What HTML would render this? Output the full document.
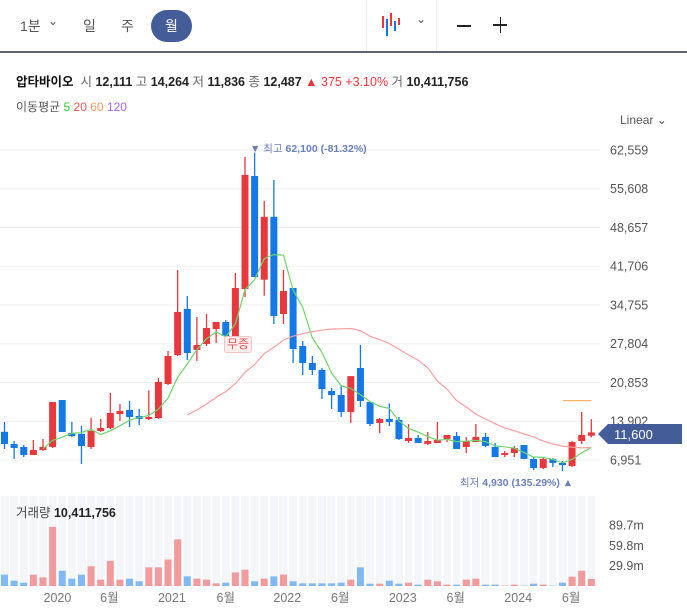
<!DOCTYPE html>
<html><head><meta charset="utf-8">
<style>
*{margin:0;padding:0;box-sizing:border-box}
body{width:687px;height:615px;background:#fff;font-family:"Liberation Sans","Noto Sans CJK KR",sans-serif;position:relative;overflow:hidden;color:#222}
.a{position:absolute;white-space:nowrap}
</style></head><body>
<div class="a" style="left:20px;top:16px;font-size:14px;color:#555">1분</div>
<div class="a" style="left:48px;top:14px;font-size:12px;color:#555">⌄</div>
<div class="a" style="left:83px;top:16px;font-size:14px;color:#555">일</div>
<div class="a" style="left:121px;top:16px;font-size:14px;color:#555">주</div>
<div class="a" style="left:151px;top:10px;width:41px;height:32px;border-radius:16px;background:#445d98;color:#fff;font-size:14px;text-align:center;line-height:32px">월</div>
<div class="a" style="left:366px;top:0;width:1px;height:52px;background:#eee"></div>
<div class="a" style="left:436px;top:0;width:1px;height:52px;background:#eee"></div>
<svg class="a" style="left:378px;top:10px" width="24" height="30"><rect x="4" y="6" width="2" height="12" fill="#e8383d"/><rect x="8" y="9" width="2" height="17" fill="#1478e6"/><rect x="12" y="3" width="2" height="13" fill="#e8383d"/><rect x="16" y="11" width="2" height="10" fill="#1478e6"/><rect x="20" y="8" width="2" height="7" fill="#e8383d"/></svg>
<div class="a" style="left:416px;top:12px;font-size:12px;color:#555">⌄</div>
<div class="a" style="left:457px;top:25px;width:14px;height:1.5px;background:#222"></div>
<div class="a" style="left:493px;top:16px;width:14px;height:18px"><div style="position:absolute;left:0;top:8px;width:14px;height:1.5px;background:#222"></div><div style="position:absolute;left:6.5px;top:1px;width:1.5px;height:16px;background:#222"></div></div>
<div class="a" style="left:0;top:51px;width:687px;height:2px;background:#5f6470"></div>

<div class="a" style="left:16px;top:71px;font-size:12.5px;color:#666"><b style="color:#111">압타바이오</b>&nbsp; 시 <b style="color:#222">12,111</b> 고 <b style="color:#222">14,264</b> 저 <b style="color:#222">11,836</b> 종 <b style="color:#222">12,487</b> <span style="color:#e8383d">▲ 375 +3.10%</span> 거 <b style="color:#222">10,411,756</b></div>
<div class="a" style="left:16px;top:98px;font-size:12px;color:#555">이동평균 <span style="color:#3c3">5</span> <span style="color:#f55">20</span> <span style="color:#f96">60</span> <span style="color:#a6f">120</span></div>
<div class="a" style="left:620px;top:113px;font-size:12px;color:#555">Linear ⌄</div>

<svg id="chart" class="a" style="left:0;top:0" width="687" height="615"></svg>
<script>
const opens=[12000,9820,9280,7840,8740,9280,17710,11790,11610,9280,12150,12690,15200,15920,14840,14300,14480,20580,25780,34040,26680,27760,30450,31700,29190,37620,57900,39290,50570,33140,37800,27400,24350,23090,19320,18600,15560,23450,17350,13580,14300,14120,10350,10890,9830,10000,10710,11250,9280,10170,11070,9280,7840,8200,9640,7130,5510,7130,6410,5870,10350,11300];
const closes=[9820,9100,7840,8740,9280,17350,11970,11250,9460,12150,12690,15380,15740,14660,14300,14660,20940,25600,33500,26140,27580,30630,31700,29190,37800,58080,39770,50570,32780,37260,26860,24350,23090,19680,18600,15560,21990,17530,13400,14300,13760,10710,10890,10000,10350,10530,11430,8920,10350,11070,9460,7480,8200,9100,7130,5510,7130,6410,6050,10170,11430,11900];
const highs=[13760,10350,9640,10530,10710,17350,17710,13800,13080,14530,14300,18960,16990,17530,16090,19450,21660,26500,41030,36360,32600,33140,31700,32060,40490,61300,62100,53460,57180,41030,37800,28290,25600,23450,19860,20400,21990,27580,17350,14480,17090,14660,13400,11430,11970,13760,11430,11970,11070,13400,11790,10000,8560,9460,9640,7480,7480,7300,6760,10350,15560,14264];
const lows=[8920,7130,7480,7840,8560,9100,11970,11070,6230,8920,11970,12510,13940,12870,13220,14120,14300,20400,25600,24880,24700,27400,27940,29190,29000,36190,39770,36420,31340,31340,24350,22190,22190,17890,16090,14700,13580,16450,13040,11790,13040,10530,10000,10000,9640,10000,10170,8920,8200,10170,9280,7480,7480,7480,7130,5150,5330,5690,4930,5690,9820,11000];
const volumes=[16.7,7.8,4.9,16.7,12.7,87,22.5,10.8,16.7,29,9.3,37,9.3,10.8,6.9,27.4,27.4,39,68.6,14.2,10.8,9.3,3.9,4.9,20,24,6.9,10.8,14.2,16.7,6.9,3.9,3.9,3.9,3.9,4.9,9.3,27.4,3.4,3.4,7.8,3.4,4.9,2,9.3,6.9,2,2,9.3,10.8,2,2,0.5,2,0.5,3.4,2,0.5,4.9,13.7,22.5,10.4];
const priceTicks=[6951,13902,20853,27804,34755,41706,48657,55608,62559];
const volTicks=[29.9,59.8,89.7];
const xLabels=["2020","6월","2021","6월","2022","6월","2023","6월","2024","6월"];
const xLabelIdx=[5.5,10.9,17.4,23,29.4,34.9,41.4,46.9,53.4,58.9];

const svg=document.getElementById('chart');
const NS='http://www.w3.org/2000/svg';
const xOf=i=>4.5+i*9.62;
const yP=v=>150+(62559-v)/179.4;
const yV=v=>586-v*0.68;
function mk(t,a){const e=document.createElementNS(NS,t);for(const k in a)e.setAttribute(k,a[k]);svg.appendChild(e);return e;}
const RED='#e8383d',BLUE='#1478e6';
// grid + ticks
priceTicks.forEach(v=>{
 const g=mk('line',{x1:0,x2:600,y1:yP(v),y2:yP(v),stroke:'#f0f0f2','stroke-width':1});
 
 
 const t=mk('text',{x:610,y:yP(v)+4.5,'font-size':12.5,fill:'#555'});
 t.textContent=v.toLocaleString('en-US');
 
 
});
// volume stripes
closes.forEach((c,i)=>{
 const s=mk('rect',{x:xOf(i)-4,y:496,width:8,height:90,fill:'#f4f6fa'});
 
 
});
// candles
closes.forEach((c,i)=>{
 const o=opens[i],up=c>=o,col=up?RED:BLUE,x=xOf(i);
 const w=mk('line',{x1:x,x2:x,y1:yP(highs[i]),y2:yP(lows[i]),stroke:col,'stroke-width':1.3});
 
 
 const top=yP(Math.max(o,c)),bot=yP(Math.min(o,c));
 const b=mk('rect',{x:x-3.5,y:top,width:7,height:Math.max(1.5,bot-top),fill:col});
 
 
 const vb=mk('rect',{x:x-3.5,y:yV(volumes[i]),width:7,height:volumes[i]*0.68,fill:up?'#f29a9c':'#80b9f5'});
 
 
});
// moving averages
function ma(n,col,name){
 let pts=[];
 for(let i=n-1;i<closes.length;i++){let s=0;for(let j=i-n+1;j<=i;j++)s+=closes[j];pts.push(xOf(i).toFixed(1)+','+yP(s/n).toFixed(1));}
 if(pts.length<2)return;
 const p=mk('polyline',{points:pts.join(' '),fill:'none',stroke:col,'stroke-width':1.2});
 
 
}
ma(5,'#6fd46f','ma5-line');ma(20,'#f6a0a0','ma20-line');
// ma60 short segment
{let s=0;for(let j=0;j<60;j++)s+=closes[j];const v=s/60;
 const p=mk('line',{x1:xOf(59)-9,x2:xOf(61),y1:yP(v),y2:yP(v),stroke:'#f9b36a','stroke-width':1.3});
 
 }
// volume ticks
volTicks.forEach(v=>{
 const t=mk('text',{x:609,y:yV(v)+4.5,'font-size':12.5,fill:'#555'});
 t.textContent=v+'m';
 
 
});
xLabels.forEach((l,k)=>{
 const t=mk('text',{x:xOf(xLabelIdx[k]),y:602,'font-size':12.5,fill:'#777','text-anchor':'middle'});
 t.textContent=l;
 
 
});
</script>
<div class="a" style="left:250px;top:141px;font-size:10.5px;color:#6b80b8">▼ 최고 <b>62,100 (-81.32%)</b></div>
<div class="a" style="left:460px;top:475px;font-size:10.5px;color:#6b80b8">최저 <b>4,930 (135.29%)</b> ▲</div>
<div class="a" style="left:224px;top:336px;font-size:12px;color:#d55;background:#fdeeee;border:1px solid #f4c4c4;border-radius:3px;padding:0 2px;line-height:15px">무증</div>
<svg class="a" style="left:598px;top:424px" width="84" height="20"><polygon points="0,10 10,0 84,0 84,20 10,20" fill="#445d98"/><text x="16" y="15" font-size="13" fill="#fff" font-family="Liberation Sans,sans-serif">11,600</text></svg>
<div class="a" style="left:16px;top:502px;font-size:12.5px;color:#444">거래량 <b style="color:#222">10,411,756</b></div>
</body></html>
